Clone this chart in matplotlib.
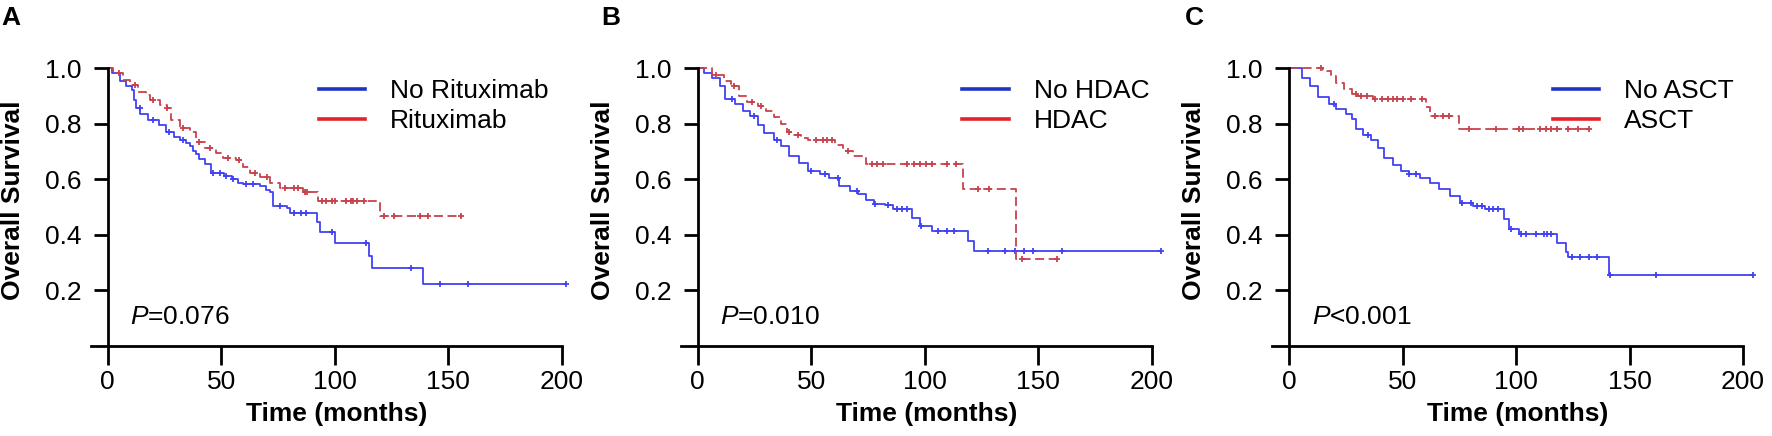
import numpy as np
import matplotlib
matplotlib.use('Agg')
import matplotlib.pyplot as plt
from matplotlib.lines import Line2D

plt.rcParams['font.family'] = ['Liberation Sans', 'DejaVu Sans']
plt.rcParams['mathtext.fontset'] = 'custom'
plt.rcParams['mathtext.rm'] = 'Liberation Sans'
plt.rcParams['mathtext.it'] = 'Liberation Sans:italic'

# ---- panel A : rituximab ----
a_no_t = [0, 2, 5.4, 8, 10.5, 11.4, 12.6, 14.1, 17.8, 22.4, 25.8, 29.2, 31.7, 34.3, 36.1, 37.7,
          39.1, 40.2, 42.7, 45.7, 51.2, 54.6, 57.2, 59.6, 67, 69.9, 71.6, 72.8, 79.2, 80.2,
          92, 93.5, 100.3, 115, 116.5, 139]
a_no_s = [1.0, .982, .955, .935, .922, .885, .855, .835, .812, .794, .768, .753, .741, .73, .72, .70,
          .69, .671, .655, .622, .612, .60, .586, .582, .575, .562, .553, .502, .497, .478,
          .447, .41, .369, .325, .282, .222]
a_no_c = [14, 20, 27, 33, 46.4, 49.3, 52, 55.2, 61.1, 64, 76, 82, 85, 87.5, 99, 114,
          133.8, 146.3, 158.7, 202]
a_yes_t = [0, 2.5, 3.8, 6.8, 9.7, 13.4, 17, 18.5, 22.9, 25.9, 28, 31.7, 36.1, 39.1, 42.7, 47.9,
           50.8, 56.7, 59.6, 62.6, 67, 71.4, 75.8, 86, 92.5, 120]
a_yes_s = [1.0, .99, .981, .957, .939, .915, .903, .885, .867, .855, .813, .783, .771, .735, .711, .693,
           .675, .669, .645, .621, .609, .585, .567, .555, .52, .468]
a_yes_c = [5, 12, 20, 26, 33, 40, 45, 53, 58, 65, 70, 78, 82, 84, 87, 88, 94.5, 96, 99, 100,
           104.8, 107, 108, 110, 113, 121.5, 126, 137.4, 141, 155.8]

# ---- panel B : HDAC ----
b_no_t = [0, 2.9, 6.3, 9.7, 12.2, 16.5, 19.8, 23.2, 26.6, 29.2, 33.4, 36.8, 40.2, 44.4, 48.7,
          53.8, 58, 62.2, 67.3, 70.7, 74.1, 77.5, 82.6, 86, 94.5, 97.9, 103, 119.1, 121.6]
b_no_s = [1.0, .982, .965, .935, .888, .871, .847, .829, .794, .765, .741, .718, .682, .659, .629,
          .618, .606, .577, .559, .547, .524, .512, .506, .494, .459, .43, .412, .377, .341]
b_no_c = [15, 25, 35, 50, 56, 62, 70, 78, 84, 88, 90, 92, 98.5, 106, 109.6, 113, 127.9, 135.2,
          139.9, 143.7, 147.9, 160.6, 204.2]
b_yes_t = [0, 6.3, 11.4, 14.8, 18.1, 21.5, 26.6, 30, 33.4, 36.8, 39.3, 41.9, 45.3, 48.7, 60.5,
           63.9, 68.2, 72.4, 74.1, 116.7, 140.3]
b_yes_s = [1.0, .976, .953, .935, .9, .876, .865, .847, .824, .8, .771, .759, .747, .741, .724,
           .7, .682, .676, .653, .565, .312]
b_yes_c = [8, 16, 24, 28, 40, 44, 52, 55, 57, 59, 66, 76.7, 79.2, 81.8, 92, 95.3, 97.9, 100.4,
           103, 109.7, 114, 123.3, 128.4, 142.8, 158.1]

# ---- panel C : ASCT ----
c_no_t = [0, 5.9, 9.2, 12.6, 17.6, 20.9, 25.1, 27.6, 29.3, 32.6, 36, 39.3, 41.9, 46, 49.4, 52.7,
          57.8, 61.9, 66.1, 71.1, 75.3, 81.2, 86.2, 94.6, 97.1, 101.3, 118, 122.2, 123, 141]
c_no_s = [1.0, .965, .935, .894, .87, .853, .835, .817, .782, .758, .74, .711, .676, .652, .628, .617,
          .605, .587, .563, .54, .516, .504, .493, .457, .422, .404, .369, .339, .321, .254]
c_no_c = [20, 35, 52.7, 56, 76, 80, 83, 85, 88, 90, 92, 97.9, 102, 104.6, 108.8, 112.2, 113.8,
          115.5, 124.7, 128, 132.2, 135.6, 141.5, 161.5, 204.2]
c_yes_t = [0, 15, 16.7, 18.4, 20.9, 24.3, 27.6, 30, 36.8, 60.3, 61.9, 74.8]
c_yes_s = [1.0, .994, .988, .97, .947, .923, .906, .9, .888, .858, .829, .782]
c_yes_c = [14.2, 29.3, 31.8, 34.3, 37.7, 41, 43.5, 46, 47.7, 50.2, 53.6, 58.6, 64.4, 67.8, 70.3,
           79.5, 91.2, 101.3, 103, 110.5, 113, 115.5, 118, 123, 127.2, 132.2]

panels = [
    ('A', 'No Rituximab', 'Rituximab', 'P=0.076', a_no_t, a_no_s, a_no_c, a_yes_t, a_yes_s, a_yes_c),
    ('B', 'No HDAC', 'HDAC', 'P=0.010', b_no_t, b_no_s, b_no_c, b_yes_t, b_yes_s, b_yes_c),
    ('C', 'No ASCT', 'ASCT', 'P<0.001', c_no_t, c_no_s, c_no_c, c_yes_t, c_yes_s, c_yes_c),
]
ax_left = [90.7, 680.7, 1272]
letter_x = [1, 601, 1185]
legend_x = [0.484, 0.598, 0.596]

blue = '#4242f2'
red = '#c8424c'


def km(ax, t, s, cens, color, ls):
    end = max(cens[-1], t[-1])
    tt = list(t) + [end]
    ss = list(s) + [s[-1]]
    ax.step(tt, ss, where='post', color=color, lw=1.3, ls=ls, clip_on=False)
    idx = np.searchsorted(t, cens, side='right') - 1
    ax.plot(cens, np.array(s)[idx], '+', color=color, ms=5, mew=1.3, clip_on=False)


W, H = 1772, 436
fig = plt.figure(figsize=(W / 100, H / 100), dpi=100)

for i, (let, lab0, lab1, ptxt, t0, s0, c0, t1, s1, c1) in enumerate(panels):
    ax = fig.add_axes([ax_left[i] / W, 90 / H, 471 / W, 278 / H])
    km(ax, t0, s0, c0, blue, '-')
    km(ax, t1, s1, c1, red, (0, (5, 2.5)))
    ax.set_xlim(-7.5, 200)
    ax.set_ylim(0, 1.0)
    for sp in ['top', 'right']:
        ax.spines[sp].set_visible(False)
    ax.spines['left'].set_position(('data', 0))
    ax.spines['left'].set_linewidth(2)
    ax.spines['bottom'].set_linewidth(2)
    ax.set_xticks([0, 50, 100, 150, 200])
    ax.set_yticks([0.2, 0.4, 0.6, 0.8, 1.0])
    ax.set_yticklabels(['0.2', '0.4', '0.6', '0.8', '1.0'])
    ax.tick_params(axis='x', direction='out', length=13.5, width=2, pad=4, labelsize=19)
    ax.tick_params(axis='y', direction='out', length=10, width=2, pad=9, labelsize=19)
    ax.text(-0.165, 0.525, 'Overall Survival', transform=ax.transAxes, rotation=90,
            ha='center', va='center', fontsize=19, fontweight='bold')
    ax.text(0.522, -0.245, 'Time (months)', transform=ax.transAxes,
            ha='center', va='center', fontsize=19, fontweight='bold')
    rest = ptxt[1:]
    ax.text(10, 0.078, '$P$' + rest, fontsize=19, ha='left', va='baseline')
    handles = [Line2D([], [], color='#1f33c4', lw=2.6), Line2D([], [], color='#e3222b', lw=2.6)]
    ax.legend(handles, [lab0, lab1], loc='upper left', bbox_to_anchor=(legend_x[i], 0.96),
              frameon=False, fontsize=19, handlelength=1.75, handletextpad=0.95,
              labelspacing=0.22, borderpad=0, borderaxespad=0)
    fig.text(letter_x[i] / W, 1 - 25 / H, let, fontsize=19, fontweight='bold', va='baseline')

fig.savefig('out.png', dpi=100)
